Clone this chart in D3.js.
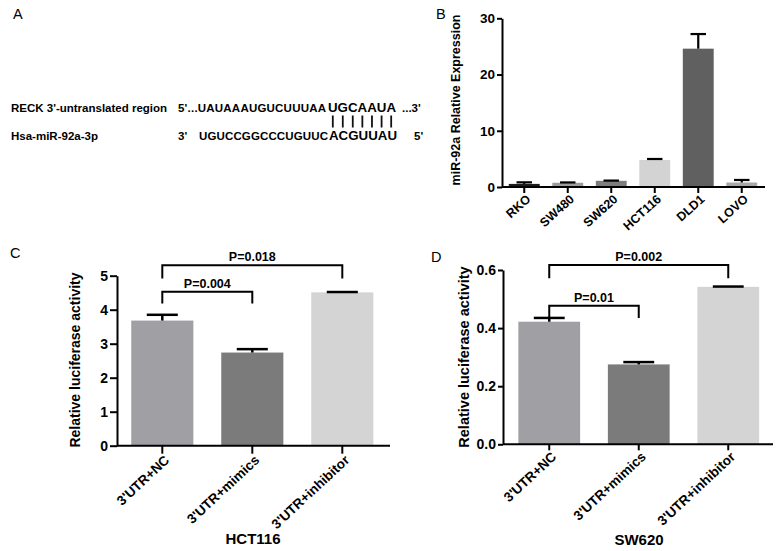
<!DOCTYPE html>
<html lang="en">
<head>
<meta charset="UTF-8">
<title>miR-92a / RECK</title>
<script src="https://cdn.jsdelivr.net/npm/d3@7"></script>
<style>
    body { margin: 0; background: #fff; }
    svg { display: block; font-family: Arial, "Liberation Sans", Helvetica, sans-serif; }
</style>
</head>
<body>
<div id="chart"></div>
<script>
// ---- data ----
const reckLabel = "RECK 3'-untranslated region";
const mirLabel = "Hsa-miR-92a-3p";
const reckSeq = ["5'...UAUAAAUGUCUUUAA", "UGCAAUA", "...3'"];
const mirSeq = ["3'", "UGUCCGGCCCUGUUC", "ACGUUAU", "5'"];

const cellLines = ["RKO", "SW480", "SW620", "HCT116", "DLD1", "LOVO"];
const cellValues = [0.55, 0.75, 1.1, 4.8, 24.6, 0.8];
const cellErrors = [0.28, 0.06, 0.04, 0.18, 2.6, 0.45];
const cellTicks = [0, 10, 20, 30];

const groups = ["3'UTR+NC", "3'UTR+mimics", "3'UTR+inhibitor"];
const hctValues = [3.68, 2.74, 4.51];
const hctErrors = [0.17, 0.1, 0.01];
const hctTicks = [0, 1, 2, 3, 4, 5];
const hctPairs = [[0, 1], [0, 2]];
const hctP = ["P=0.004", "P=0.018"];

const swValues = [0.422, 0.275, 0.542];
const swErrors = [0.013, 0.008, 0.001];
const swTicks = [0, 0.2, 0.4, 0.6];
const swPairs = [[0, 1], [0, 2]];
const swP = ["P=0.01", "P=0.002"];

const svg = d3.select("#chart").append("svg")
    .attr("width", 782)
    .attr("height", 551);

// panel letters
svg.selectAll("text.letter")
    .data([["A", 13, 18.5], ["B", 436, 18.5], ["C", 10, 258], ["D", 431, 261.5]])
    .join("text")
        .attr("class", "letter")
        .attr("x", d => d[1]).attr("y", d => d[2])
        .attr("font-size", 14.5)
        .text(d => d[0]);

// ---- panel A: sequence alignment ----
const a = svg.append("g").attr("font-weight", "bold");
a.append("text").attr("x", 11).attr("y", 111.5).attr("font-size", 11.5).text(reckLabel);
a.append("text").attr("x", 11).attr("y", 140).attr("font-size", 11.5).text(mirLabel);

a.append("text").attr("x", 178).attr("y", 111.5).attr("font-size", 11.5)
    .attr("textLength", 148).attr("lengthAdjust", "spacing").text(reckSeq[0]);
const topPair = a.append("text").attr("x", 328).attr("y", 111.5).attr("font-size", 13.5)
    .attr("textLength", 68).attr("lengthAdjust", "spacingAndGlyphs")
    .text(reckSeq[1]);
a.append("text").attr("x", 402).attr("y", 111.5).attr("font-size", 11.5).text(reckSeq[2]);

a.append("text").attr("x", 178).attr("y", 140).attr("font-size", 11.5).text(mirSeq[0]);
a.append("text").attr("x", 199).attr("y", 140).attr("font-size", 11.5)
    .attr("textLength", 129).attr("lengthAdjust", "spacing").text(mirSeq[1]);
a.append("text").attr("x", 329).attr("y", 140).attr("font-size", 13.5)
    .attr("textLength", 68).attr("lengthAdjust", "spacingAndGlyphs")
    .text(mirSeq[2]);
a.append("text").attr("x", 414).attr("y", 140).attr("font-size", 11.5).text(mirSeq[3]);

// pairing bars under each paired base
const node = topPair.node();
const pairX = d3.range(reckSeq[1].length).map(i => {
    const b = node.getExtentOfChar(i);
    return b.x + b.width / 2;
});
a.selectAll("line.pair").data(pairX).join("line")
    .attr("x1", d => d).attr("x2", d => d)
    .attr("y1", 115.5).attr("y2", 127.5)
    .attr("stroke", "#111").attr("stroke-width", 1.8);

// ---- bar panels ----
function barPanel(o) {
    const g = svg.append("g");
    const x = d3.scaleBand().domain(o.categories).range(o.xRange)
        .paddingInner(o.pad).paddingOuter(o.pad / 2);
    const y = d3.scaleLinear().domain([0, d3.max(o.ticks)]).range(o.yRange);
    const cx = d => x(d) + x.bandwidth() / 2;

    g.selectAll("rect").data(o.categories).join("rect")
        .attr("x", d => x(d))
        .attr("width", x.bandwidth())
        .attr("y", (d, i) => y(o.values[i]))
        .attr("height", (d, i) => y(0) - y(o.values[i]))
        .attr("fill", (d, i) => o.colors[i]);

    // error bars (upper only)
    const cap = x.bandwidth() / 4;
    const eb = g.selectAll("g.err").data(o.categories).join("g")
        .attr("stroke", "#000").attr("stroke-width", o.errWidth);
    eb.append("line")
        .attr("x1", d => cx(d)).attr("x2", d => cx(d))
        .attr("y1", (d, i) => y(o.values[i]))
        .attr("y2", (d, i) => y(o.values[i] + o.errors[i]));
    eb.append("line")
        .attr("x1", d => cx(d) - cap).attr("x2", d => cx(d) + cap)
        .attr("y1", (d, i) => y(o.values[i] + o.errors[i]))
        .attr("y2", (d, i) => y(o.values[i] + o.errors[i]));

    // y axis
    const ya = g.append("g")
        .attr("transform", `translate(${o.axisX},0)`)
        .call(d3.axisLeft(y).tickValues(o.ticks).tickFormat(o.format)
            .tickSize(o.tickLen).tickSizeOuter(0).tickPadding(2));
    ya.selectAll("path, line").attr("stroke", "#000").attr("stroke-width", 2);
    ya.selectAll("text").attr("font-size", o.tickFont).attr("font-weight", "bold")
        .attr("fill", "#000").attr("font-family", null);

    // x axis
    const xa = g.append("g")
        .attr("transform", `translate(0,${y(0)})`)
        .call(d3.axisBottom(x).tickSize(o.tickLen + 1).tickPadding(3).tickSizeOuter(0));
    xa.select(".domain").remove();
    xa.append("line").attr("x1", o.axisX).attr("x2", o.axisEnd)
        .attr("stroke", "#000").attr("stroke-width", 2);
    xa.selectAll("line").attr("stroke", "#000").attr("stroke-width", 2);
    xa.selectAll(".tick text")
        .attr("font-size", o.catFont).attr("font-weight", "bold")
        .attr("fill", "#000").attr("font-family", null)
        .attr("text-anchor", "end")
        .attr("x", 0).attr("y", 0)
        .attr("dy", "0.7em").attr("dx", "0.15em")
        .attr("transform", `translate(0,${o.tickLen + 3}) rotate(${o.angle})`);

    // y title
    g.append("text")
        .attr("transform", `translate(${o.yTitleX},${o.yTitleY}) rotate(-90)`)
        .attr("text-anchor", "middle").attr("font-weight", "bold")
        .attr("font-size", o.yTitleFont).text(o.yTitle);

    if (o.xTitle) {
        g.append("text").attr("x", o.xTitleX).attr("y", o.xTitleY)
            .attr("text-anchor", "middle").attr("font-weight", "bold")
            .attr("font-size", 15).text(o.xTitle);
    }

    // significance brackets
    if (o.pairs) {
        o.pairs.forEach((p, k) => {
            const x1 = cx(o.categories[p[0]]), x2 = cx(o.categories[p[1]]);
            const top = y(o.bracketTop[k]), foot = y(o.bracketFoot[k]);
            g.append("path")
                .attr("d", `M${x1},${foot}V${top}H${x2}V${foot}`)
                .attr("fill", "none").attr("stroke", "#000").attr("stroke-width", 2);
            g.append("text").attr("x", (x1 + x2) / 2).attr("y", top - 4)
                .attr("text-anchor", "middle").attr("font-weight", "bold")
                .attr("font-size", 12.5).text(o.pLabels[k]);
        });
    }
}

barPanel({
    categories: cellLines, values: cellValues, errors: cellErrors, ticks: cellTicks,
    colors: ["#1c1c1c", "#9c9c9c", "#7e7e7e", "#d3d3d3", "#606060", "#a9a9a9"],
    format: d3.format("d"),
    xRange: [502.5, 763.5], pad: 0.29, yRange: [187, 18.3],
    axisX: 502, axisEnd: 765, tickLen: 5, tickFont: 13.5, catFont: 12.5, angle: -42,
    errWidth: 2.2,
    yTitle: "miR-92a Relative Expression", yTitleX: 460, yTitleY: 100, yTitleFont: 12.5
});

barPanel({
    categories: groups, values: hctValues, errors: hctErrors, ticks: hctTicks,
    colors: ["#9f9fa4", "#7b7b7b", "#d4d4d4"],
    format: d3.format("d"),
    xRange: [117.3, 387.3], pad: 0.31, yRange: [445.7, 275.7],
    axisX: 117, axisEnd: 390, tickLen: 7, tickFont: 14, catFont: 13.5, angle: -43,
    errWidth: 2.5,
    yTitle: "Relative luciferase activity", yTitleX: 80, yTitleY: 360, yTitleFont: 14,
    xTitle: "HCT116", xTitleX: 253, xTitleY: 544,
    pairs: hctPairs, pLabels: hctP, bracketTop: [4.53, 5.31], bracketFoot: [4.18, 4.92]
});

barPanel({
    categories: groups, values: swValues, errors: swErrors, ticks: swTicks,
    colors: ["#9f9fa4", "#7b7b7b", "#d4d4d4"],
    format: d3.format(".1f"),
    xRange: [504.5, 773], pad: 0.31, yRange: [444.3, 270],
    axisX: 503, axisEnd: 773, tickLen: 5, tickFont: 14, catFont: 13.5, angle: -43,
    errWidth: 2.5,
    yTitle: "Relative luciferase activity", yTitleX: 469, yTitleY: 357, yTitleFont: 14.5,
    xTitle: "SW620", xTitleX: 639, xTitleY: 545,
    pairs: swPairs, pLabels: swP, bracketTop: [0.477, 0.617], bracketFoot: [0.435, 0.572]
});
</script>
</body>
</html>
